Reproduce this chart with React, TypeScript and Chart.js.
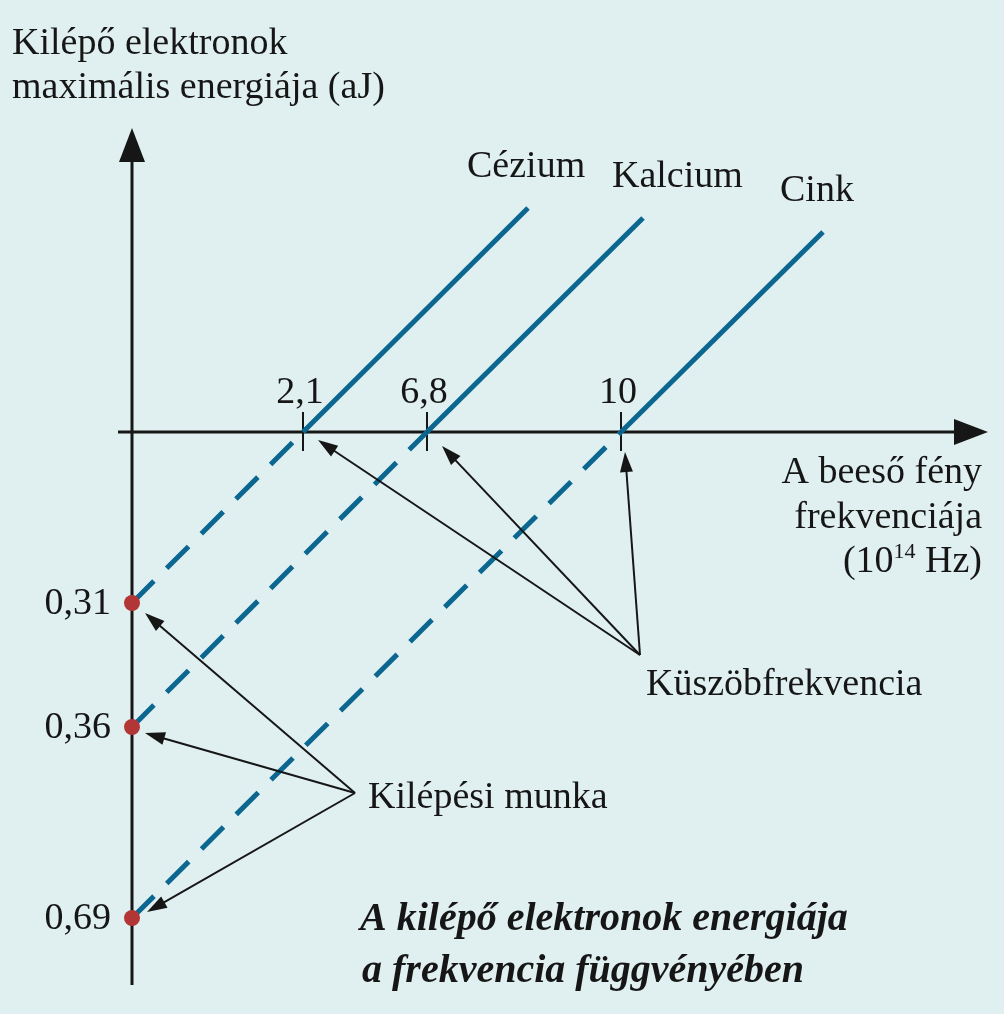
import React, { useEffect, useRef } from "react";
import { Chart, registerables } from "chart.js";

Chart.register(...registerables);

// Schematic diagram (not to scale): positions in diagram units, labels as printed
const metals = ["Cézium", "Kalcium", "Cink"];
const thresholdLabels = ["2,1", "6,8", "10"]; // 10^14 Hz
const workFunctionLabels = ["0,31", "0,36", "0,69"]; // aJ
const thresholdX = [1.71, 2.95, 4.89];
const interceptY = [-1.71, -2.95, -4.86];
const lineEndX = [3.96, 5.11, 6.91];
const lineEndY = [2.24, 2.14, 2.0];

const yTitle = ["Kilépő elektronok", "maximális energiája (aJ)"];
const xTitle = ["A beeső fény", "frekvenciája"];
const thresholdNote = "Küszöbfrekvencia";
const workNote = "Kilépési munka";
const caption = ["A kilépő elektronok energiája", "a frekvencia függvényében"];

const BG = "#e0f0f1";
const LINE = "#0b6690";
const DOT = "#b23636";
const INK = "#161616";
const FONT = "'Liberation Serif', 'DejaVu Serif', serif";
const FS = 38;
const nameOffsets = [-61, -31, -43];

function arrowHead(ctx: CanvasRenderingContext2D, x0: number, y0: number, x1: number, y1: number, len: number, half: number) {
  const a = Math.atan2(y1 - y0, x1 - x0);
  const bx = x1 - len * Math.cos(a);
  const by = y1 - len * Math.sin(a);
  ctx.beginPath();
  ctx.moveTo(x1, y1);
  ctx.lineTo(bx + half * Math.sin(a), by - half * Math.cos(a));
  ctx.lineTo(bx - half * Math.sin(a), by + half * Math.cos(a));
  ctx.closePath();
  ctx.fill();
}

function arrow(ctx: CanvasRenderingContext2D, x0: number, y0: number, x1: number, y1: number, len: number, half: number, lw: number) {
  const a = Math.atan2(y1 - y0, x1 - x0);
  ctx.lineWidth = lw;
  ctx.beginPath();
  ctx.moveTo(x0, y0);
  ctx.lineTo(x1 - (len - 2) * Math.cos(a), y1 - (len - 2) * Math.sin(a));
  ctx.stroke();
  arrowHead(ctx, x0, y0, x1, y1, len, half);
}

const axesPlugin = {
  id: "axesPlugin",
  beforeDatasetsDraw(chart: any) {
    const ctx = chart.ctx as CanvasRenderingContext2D;
    const xs = chart.scales.x;
    const ys = chart.scales.y;
    const x0 = xs.getPixelForValue(0);
    const y0 = ys.getPixelForValue(0);
    ctx.save();
    ctx.strokeStyle = INK;
    ctx.fillStyle = INK;
    ctx.lineCap = "butt";
    arrow(ctx, x0, 985, x0, 128, 34, 13, 3);
    arrow(ctx, 118, y0, 988, y0, 34, 13, 3);
    ctx.lineWidth = 2;
    thresholdX.forEach((t) => {
      const px = xs.getPixelForValue(t);
      ctx.beginPath();
      ctx.moveTo(px, y0 - 20);
      ctx.lineTo(px, y0 + 19);
      ctx.stroke();
    });
    ctx.restore();
  },
  afterDraw(chart: any) {
    const ctx = chart.ctx as CanvasRenderingContext2D;
    const xs = chart.scales.x;
    const ys = chart.scales.y;
    const x0 = xs.getPixelForValue(0);
    const y0 = ys.getPixelForValue(0);
    ctx.save();
    ctx.fillStyle = INK;
    ctx.strokeStyle = INK;
    ctx.textBaseline = "alphabetic";
    ctx.font = `${FS}px ${FONT}`;

    ctx.textAlign = "left";
    ctx.fillText(yTitle[0], 12, 54);
    ctx.fillText(yTitle[1], 12, 98);

    metals.forEach((m, i) => {
      const px = xs.getPixelForValue(lineEndX[i]);
      const py = ys.getPixelForValue(lineEndY[i]);
      ctx.textAlign = "left";
      ctx.fillText(m, px + nameOffsets[i], py - 31);
    });

    ctx.textAlign = "center";
    thresholdLabels.forEach((l, i) => {
      const px = xs.getPixelForValue(thresholdX[i]);
      ctx.fillText(l, px - 3, y0 - 29);
    });

    ctx.textAlign = "right";
    workFunctionLabels.forEach((l, i) => {
      const py = ys.getPixelForValue(interceptY[i]);
      ctx.fillText(l, x0 - 21, py + 11);
    });

    ctx.textAlign = "right";
    ctx.fillText(xTitle[0], 982, 483);
    ctx.fillText(xTitle[1], 982, 528);
    const tail = " Hz)";
    const head = "(10";
    const sup = "14";
    const wTail = ctx.measureText(tail).width;
    ctx.font = `22px ${FONT}`;
    const wSup = ctx.measureText(sup).width;
    ctx.font = `${FS}px ${FONT}`;
    const wHead = ctx.measureText(head).width;
    const right = 982;
    ctx.textAlign = "left";
    ctx.fillText(tail, right - wTail, 572);
    ctx.fillText(head, right - wTail - wSup - wHead, 572);
    ctx.font = `22px ${FONT}`;
    ctx.fillText(sup, right - wTail - wSup, 558);

    ctx.font = `${FS}px ${FONT}`;
    ctx.textAlign = "left";
    ctx.fillText(thresholdNote, 646, 695);
    ctx.fillText(workNote, 368, 808);

    const kOrigin = [640, 655];
    thresholdX.forEach((t, i) => {
      const px = xs.getPixelForValue(t);
      const targets = [
        [px + 15, y0 + 8],
        [px + 15, y0 + 14],
        [px + 4, y0 + 20],
      ];
      arrow(ctx, kOrigin[0], kOrigin[1], targets[i][0], targets[i][1], 20, 6.5, 2);
    });
    const wOrigin = [355, 793];
    interceptY.forEach((v, i) => {
      const py = ys.getPixelForValue(v);
      const targets = [
        [x0 + 13, py + 10],
        [x0 + 13, py + 6],
        [x0 + 15, py - 6],
      ];
      arrow(ctx, wOrigin[0], wOrigin[1], targets[i][0], targets[i][1], 20, 6.5, 2);
    });

    ctx.font = `italic bold 40px ${FONT}`;
    ctx.textAlign = "left";
    ctx.fillText(caption[0], 360, 930);
    ctx.fillText(caption[1], 362, 982);
    ctx.restore();
  },
};

export default function App() {
  const ref = useRef<HTMLCanvasElement | null>(null);
  useEffect(() => {
    if (!ref.current) return;
    const datasets = metals.map((m, i) => ({
      label: m,
      data: [
        { x: 0, y: interceptY[i] },
        { x: thresholdX[i], y: 0 },
        { x: lineEndX[i], y: lineEndY[i] },
      ],
      borderColor: LINE,
      borderWidth: 5,
      borderCapStyle: "butt" as const,
      tension: 0,
      clip: false as any,
      segment: {
        borderDash: (c: any) => (c.p1DataIndex === 1 ? [31, 18] : undefined),
      },
      pointRadius: (c: any) => (c.dataIndex === 0 ? 8 : 0),
      pointBackgroundColor: DOT,
      pointBorderWidth: 0,
      pointHoverRadius: 0,
    }));
    const chart = new Chart(ref.current, {
      type: "line",
      data: { datasets },
      options: {
        animation: false,
        responsive: false,
        events: [],
        layout: { padding: 0, autoPadding: false },
        plugins: { legend: { display: false }, tooltip: { enabled: false }, title: { display: false } },
        scales: {
          x: { type: "linear", min: -1.32, max: 8.72, display: false },
          y: { type: "linear", min: -5.82, max: 4.32, display: false },
        },
      },
      plugins: [axesPlugin],
    });
    return () => chart.destroy();
  }, []);
  return (
    <div style={{ position: "fixed", left: 0, top: 0, width: 1004, height: 1014, background: BG }}>
      <canvas ref={ref} width={1004} height={1014} style={{ display: "block", width: 1004, height: 1014 }} />
    </div>
  );
}
